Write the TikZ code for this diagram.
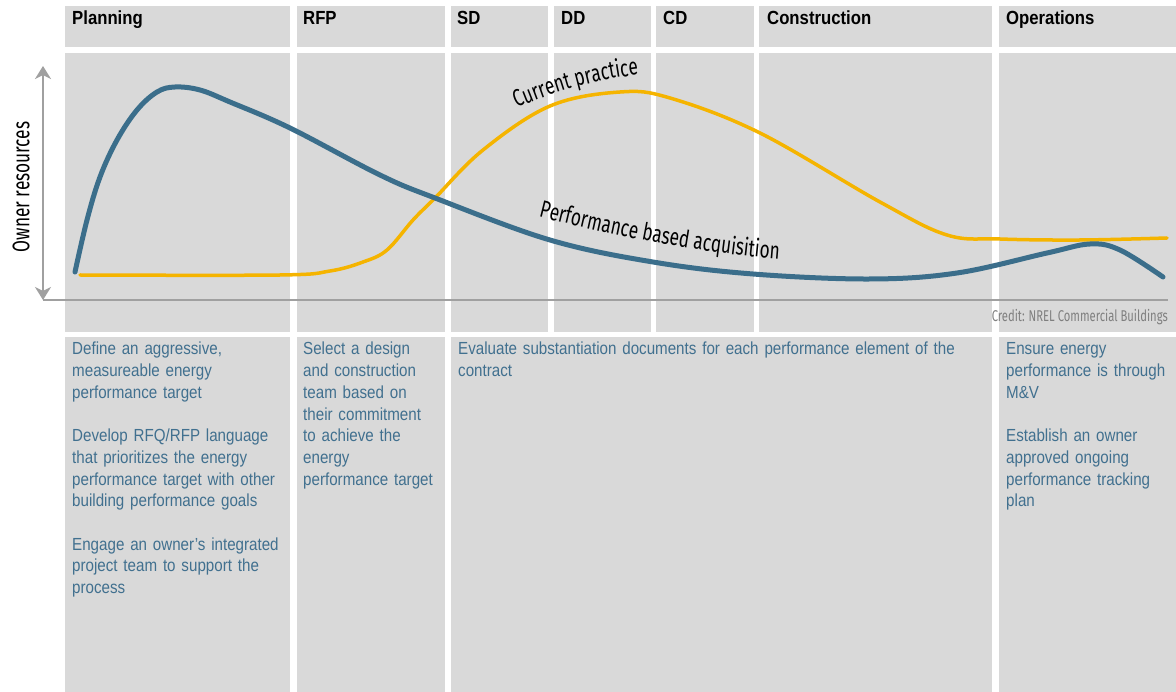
\documentclass[tikz,border=0pt]{standalone}
\usepackage{fontspec}
\setmainfont{Liberation Sans}
\newfontfamily\condfont[FakeStretch=0.72]{Fira Sans}
\newfontfamily\headfont[FakeStretch=0.88]{Liberation Sans}
\newfontfamily\bodyfont[FakeStretch=0.866]{Liberation Sans}
\usetikzlibrary{decorations.text,arrows.meta}
\definecolor{panel}{HTML}{D9D9D9}
\definecolor{blueline}{HTML}{3B6E8B}
\definecolor{bluetext}{HTML}{41708F}
\definecolor{yellowline}{HTML}{F5B400}
\definecolor{axisgray}{HTML}{A0A0A0}
\definecolor{creditgray}{HTML}{7F7F7F}
\tikzset{
  panelfill/.style={fill=panel},
  hdr/.style={anchor=base west, inner sep=0pt, font=\headfont\bfseries\fontsize{19}{22}\selectfont, text=black},
  body/.style={anchor=base west, inner sep=0pt, align=left, text width=420pt, font=\bodyfont\fontsize{17.5}{21.7}\selectfont, text=bluetext},
}
\newcommand\curvefnt{\condfont\fontsize{24}{28}\selectfont}
\begin{document}
\begin{tikzpicture}[x=1pt,y=-1pt]
\useasboundingbox (0,0) rectangle (1176,692);
\fill[white] (0,0) rectangle (1176,692);
% panels
\foreach \a/\b in {65/290,297/445,451/548,554/651,656/754,759/992,999/1176}{
  \fill[panelfill] (\a,6) rectangle (\b,47);
  \fill[panelfill] (\a,53) rectangle (\b,332);
}
\foreach \a/\b in {65/290,297/445,451/992,999/1176}{
  \fill[panelfill] (\a,337) rectangle (\b,692);
}
% headers
\node[hdr] (hplan) at (72,25) {Planning};
\node[hdr] (hrfp) at (303,25) {RFP};
\node[hdr] (hsd) at (457,25) {SD};
\node[hdr] (hdd) at (561,25) {DD};
\node[hdr] (hcd) at (663,25) {CD};
\node[hdr] (hcon) at (767,25) {Construction};
\node[hdr] (hops) at (1006,25) {Operations};
% axes
\coordinate (ytop) at (43,66);
\coordinate (ybot) at (43,300);
\coordinate (xend) at (1168,300);
\draw[axisgray, line width=1.2pt] (ybot) -- (xend);
\draw[axisgray, line width=2pt, {Stealth[length=13pt,width=16pt,inset=4pt]}-{Stealth[length=13pt,width=16pt,inset=4pt]}] (ytop) -- (ybot);
\node[rotate=90, inner sep=0pt, font=\condfont\fontsize{24}{28}\selectfont] (ylab) at (21,187) {Owner resources};
% curves
\draw[yellowline, line width=3.5pt, line cap=round] plot[smooth, tension=0.6] coordinates {
 (80,275) (280,275) (330,271) (363,262) (387,250) (413,220) (435,198) (483,150) (550,106) (620,92) (670,98) (760,133) (880,202) (947,235) (1000,239) (1080,240) (1167,238)};
\draw[blueline, line width=5pt, line cap=round] plot[smooth, tension=0.6] coordinates {
 (75,272) (87,220) (100,177) (117,140) (137,110) (157,92) (175,87) (200,90) (230,102) (290,128) (380,175) (435,198) (550,240) (653,262) (753,274) (870,279) (957,273) (1047,253) (1090,244) (1120,250) (1163,277)};
% curve labels
\path[decorate, decoration={text along path, text align=center, text={|\curvefnt|Current practice}}]
  (498,116) .. controls (544,95) and (594,77) .. (659,73);
\path[decorate, decoration={text along path, text align=center, text={|\curvefnt|Performance based acquisition}}]
  (524,213) .. controls (594,231) and (694,254) .. (794,260);
% credit
\node[anchor=base east, inner sep=0pt, font=\condfont\fontsize{15.6}{18}\selectfont, text=creditgray] (credit) at (1168,322) {Credit: NREL Commercial Buildings};
% body texts
\node[body] (tplan) at (72,355) {Define an aggressive,\\measureable energy\\performance target\\[21.7pt]Develop RFQ/RFP language\\that prioritizes the energy\\performance target with other\\building performance goals\\[21.7pt]Engage an owner’s integrated\\project team to support the\\process};
\node[body] (trfp) at (303,355) {Select a design\\and construction\\team based on\\their commitment\\to achieve the\\energy\\performance target};
\node[body, text width=560pt] (tmid) at (458,355) {Evaluate substantiation documents for each performance element of the\\contract};
\node[body] (tops) at (1006,355) {Ensure energy\\performance is through\\M\&V\\[21.7pt]Establish an owner\\approved ongoing\\performance tracking\\plan};
\end{tikzpicture}
\end{document}
